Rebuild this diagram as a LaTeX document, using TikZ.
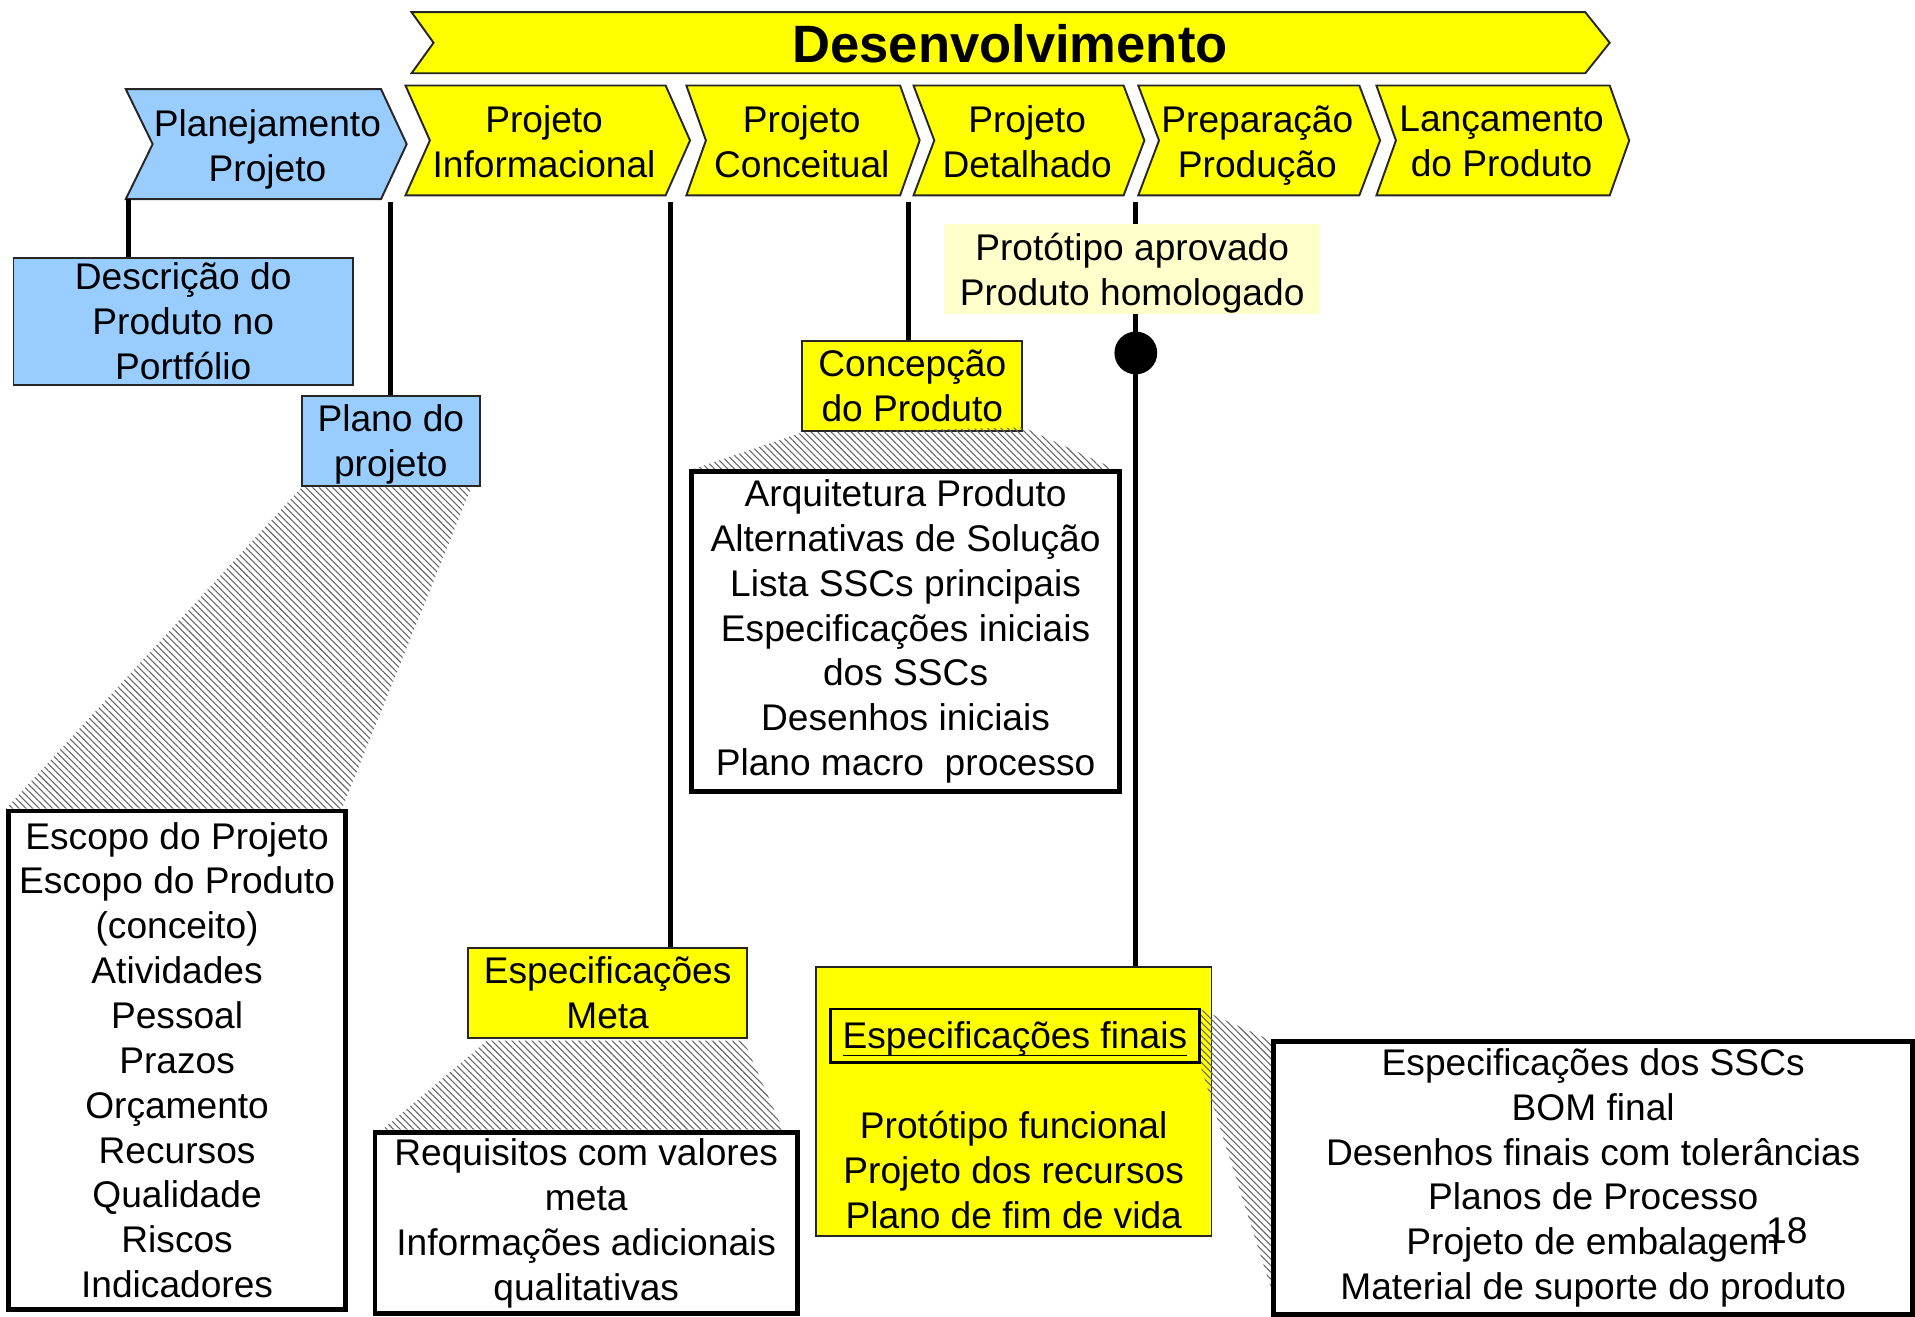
\documentclass[tikz,border=0pt]{standalone}
\usepackage{fontspec}
\setmainfont{Liberation Sans}
\usetikzlibrary{patterns.meta}

\definecolor{amarelo}{RGB}{255,255,0}
\definecolor{azul}{RGB}{153,204,255}
\definecolor{creme}{RGB}{255,255,204}

\tikzset{
  fase/.style={draw=black!85, line width=0.9pt},
  rotulo/.style={align=center, inner sep=0pt, font=\fontsize{17.3}{20.9}\selectfont},
  caixa/.style={rotulo, draw=black!85, line width=0.9pt},
  lista/.style={rotulo, draw=black, line width=2.3pt, fill=white},
  haste/.style={line width=2.4pt},
  hachura/.style={pattern={Lines[angle=-45,distance=2.2pt,line width=0.5pt]}, pattern color=black!60}
}

\begin{document}
\begin{tikzpicture}[x=0.02cm, y=-0.02cm]
  \useasboundingbox (0,0) rectangle (1568,1078);

  % fases
  \draw[fase, fill=amarelo] (337,10) -- (1298,10) -- (1318,35) -- (1298,60) -- (337,60) -- (355,35) -- cycle;
  \node[rotulo, font=\fontsize{24.5}{29}\selectfont\bfseries] (desenv) at (827,36) {Desenvolvimento};

  \draw[fase, fill=azul] (103,73) -- (312,73) -- (333,118) -- (312,163) -- (103,163) -- (125,118) -- cycle;
  \node[rotulo] (plan) at (219,122) {Planejamento\\Projeto};

  \foreach \xa/\xb/\d/\yt/\nome/\txt in {332/545/20/116/pinf/{Projeto\\Informacional},
      562/737/16/116/pcon/{Projeto\\Conceitual}, 748/920/17/116/pdet/{Projeto\\Detalhado},
      932/1113/17/119/prep/{Preparação\\Produção}, 1127/1318/16/116/lanc/{Lançamento\\do Produto}}
  {
    \draw[fase, fill=amarelo] (\xa,70) -- (\xb,70) -- (\xb+\d,115) -- (\xb,160) -- (\xa,160) -- (\xa+\d,115) -- cycle;
    \node[rotulo] (\nome) at ({(\xa+\xb)/2+7},\yt) {\txt};
  }

  % saidas do planejamento
  \node[caixa, fill=azul, minimum width=5.56cm, minimum height=2.08cm] (desc) at (150,263) {Descrição do\\Produto no\\Portfólio};
  \node[caixa, fill=azul, minimum width=2.92cm, minimum height=1.48cm] (plano) at (320,361) {\rule{0pt}{16pt}Plano do\\projeto};
  \coordinate (h1) at (105,163);
  \coordinate (h2) at (320,165);
  \draw[haste] (h1) -- (h1 |- desc.north);
  \draw[haste] (h2) -- (plano.north);

  \fill[hachura] (247,399) -- (386,399) -- (280,662) -- (5,662) -- cycle;
  \node[lista, minimum width=5.52cm, minimum height=8.16cm] (escopo) at (145,868)
    {Escopo do Projeto\\Escopo do Produto\\(conceito)\\Atividades\\Pessoal\\Prazos\\Orçamento\\Recursos\\Qualidade\\Riscos\\Indicadores};

  % informacional
  \node[caixa, fill=amarelo, minimum width=4.58cm, minimum height=1.48cm] (meta) at (497.5,813) {Especificações\\Meta};
  \coordinate (h3) at (549,165);
  \draw[haste] (h3) -- (h3 |- meta.north);
  \fill[hachura] (399,852) -- (609,852) -- (641,925) -- (313,925) -- cycle;
  \node[lista, minimum width=6.92cm, minimum height=2.96cm] (requisitos) at (480,1001.5)
    {Requisitos com valores\\meta\\Informações adicionais\\qualitativas};

  % conceitual
  \node[caixa, fill=amarelo, minimum width=3.6cm, minimum height=1.48cm] (concep) at (747,316) {Concepção\\do Produto};
  \coordinate (h4) at (744,165);
  \draw[haste] (h4) -- (h4 |- concep.north);
  \fill[hachura] (657,354) -- (838,350) -- (915,385) -- (565,385) -- cycle;
  \node[lista, minimum width=7.02cm, minimum height=5.24cm] (arquit) at (741.5,517)
    {Arquitetura Produto\\Alternativas de Solução\\Lista SSCs principais\\Especificações iniciais\\dos SSCs\\Desenhos iniciais\\Plano macro\ \ processo};

  % detalhado
  \node[caixa, fill=amarelo, minimum width=6.48cm, minimum height=4.4cm] (espfin) at (830,902) {};
  \coordinate (h5) at (930,165);
  \draw[haste] (h5) -- (h5 |- espfin.north);
  \node[rotulo, fill=creme, minimum width=6.16cm, minimum height=1.48cm] (marco) at (927,220)
    {\rule{0pt}{17pt}Protótipo aprovado\\Produto homologado};
  \fill (930,289) circle (17.5);
  \fill[hachura] (982,826) -- (1043,853) -- (1043,1062) -- (982,870) -- cycle;
  \node[draw=black, line width=1.2pt, inner sep=0pt, minimum width=6.04cm, minimum height=0.88cm,
    font=\fontsize{17.3}{20.9}\selectfont, text height=14pt, text depth=2pt] (titfin) at (831,848)
    {\underline{\raisebox{0pt}[\height][1.8pt]{Especificações finais}}};
  \node[rotulo] (itensfin) at (830,958) {Protótipo funcional\\Projeto dos recursos\\Plano de fim de vida};
  \node[lista, minimum width=10.46cm, minimum height=4.46cm] (ssc) at (1304.5,964.5)
    {Especificações dos SSCs\\BOM final\\Desenhos finais com tolerâncias\\Planos de Processo\\Projeto de embalagem\\Material de suporte do produto};

  \node[rotulo] (pagina) at (1463,1008) {18};
\end{tikzpicture}
\end{document}
